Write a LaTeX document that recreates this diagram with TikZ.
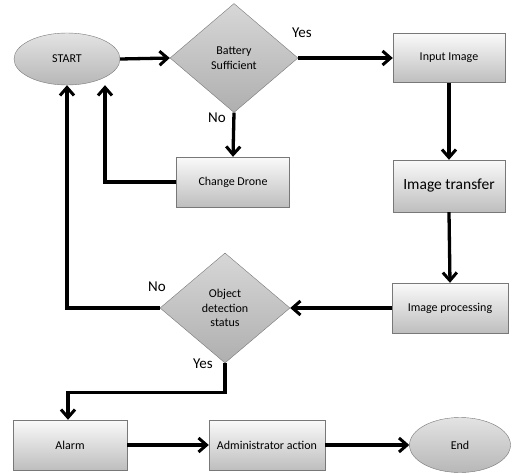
\documentclass[tikz,border=0pt]{standalone}
\usepackage{fontspec}
\setmainfont{Carlito}
\definecolor{boxedge}{RGB}{120,120,120}
\definecolor{boxtop}{RGB}{250,250,250}
\definecolor{boxbot}{RGB}{190,190,190}
\definecolor{diatop}{RGB}{215,215,215}
\definecolor{diabot}{RGB}{175,175,175}
\usetikzlibrary{arrows.meta, shapes.geometric}

\begin{document}
\begin{tikzpicture}[x=1pt, y=-1pt, font=\fontsize{12}{14}\selectfont,
    procbox/.style={draw=boxedge, top color=boxtop, bottom color=boxbot, minimum width=113pt, minimum height=50pt, inner sep=2pt},
    termnode/.style={ellipse, draw=boxedge, top color=diatop!70, bottom color=diabot!90, inner sep=0pt},
    decide/.style={diamond, draw=boxedge, top color=diatop, bottom color=diabot, inner sep=0pt, align=center, font=\fontsize{12}{14.5}\selectfont},
    flow/.style={line width=3.3pt, -{Straight Barb[length=8pt, width=14pt, line width=3pt]}},
    yesno/.style={font=\fontsize{15}{17}\selectfont}]
        \useasboundingbox (0,0) rectangle (515,474);
        % top row
        \node[termnode, minimum width=106pt, minimum height=52pt] (start) at (67,59) {START};
        \node[decide, minimum width=128pt, minimum height=109pt] (battery) at (234,58) {Battery\\Sufficient};
        \node[procbox, minimum width=112pt, minimum height=49pt] (input) at (449,58) {Input Image};
        \node[procbox] (change) at (233,182) {Change Drone};
        \node[procbox, minimum width=112pt, minimum height=52pt, font=\fontsize{15.5}{18}\selectfont] (transfer) at (449,186) {Image transfer};
        % middle row
        \node[procbox, minimum width=116pt] (processing) at (450,308) {Image processing};
        \node[decide, minimum width=130pt, minimum height=110pt] (object) at (225,308) {Object\\detection\\status};
        % bottom row
        \node[procbox, minimum width=114pt] (alarm) at (70,445) {Alarm};
        \node[procbox, minimum width=116pt] (admin) at (267,445) {Administrator action};
        \node[termnode, minimum width=101pt, minimum height=55pt] (end) at (460,445) {End};
        % labels
        \node[yesno] (batyes) at (302,33) {Yes};
        \node[yesno] (batno) at (217,118) {No};
        \node[yesno] (objno) at (157,287) {No};
        \node[yesno] (objyes) at (203,364) {Yes};
        % connectors
        \draw[flow] (start.east) -- (battery.west);
        \draw[flow] (battery.east) -- (input.west);
        \draw[flow] (battery.south) -- (change.north);
        \draw[flow] (change.west) -| ([xshift=38pt]start.south);
        \draw[flow] (input.south) -- (transfer.north);
        \draw[flow] (transfer.south) -- (processing.north);
        \draw[flow] (processing.west) -- (object.east);
        \draw[flow] (object.west) -| (start.south);
        \draw[flow] (object.south) -- ++(0,29) -| ([xshift=-2pt]alarm.north);
        \draw[flow] (alarm.east) -- (admin.west);
        \draw[flow] (admin.east) -- (end.west);
\end{tikzpicture}
\end{document}
